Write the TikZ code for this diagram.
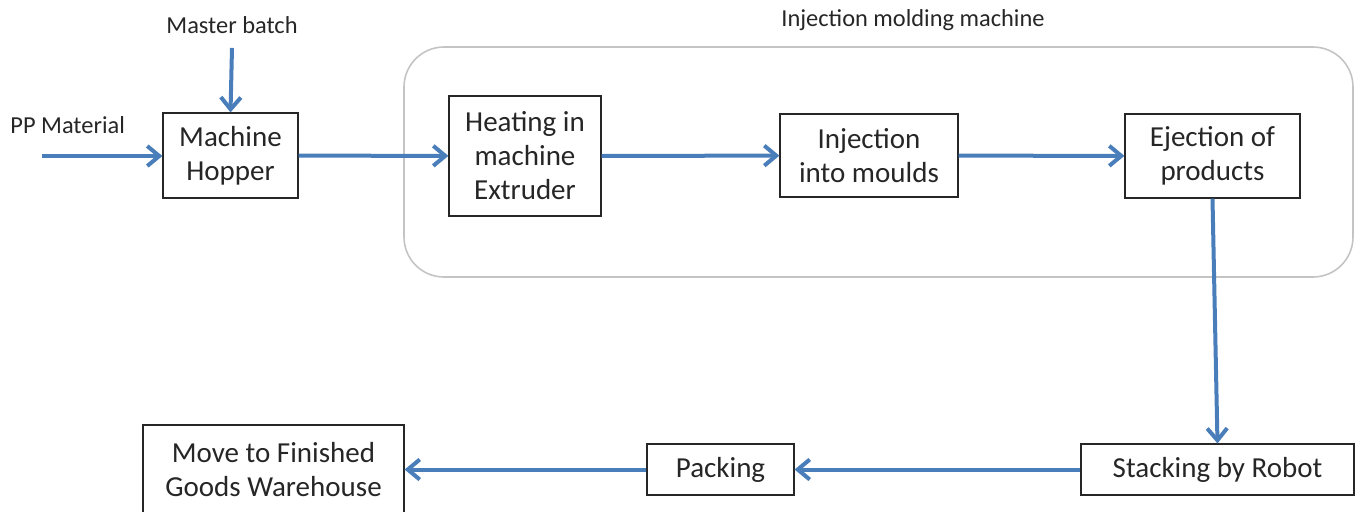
\documentclass[tikz,border=0pt]{standalone}
\usepackage{fontspec}
\setmainfont{Carlito}
\usetikzlibrary{arrows.meta}
\definecolor{flowblue}{RGB}{74,126,187}
\definecolor{framegray}{RGB}{196,196,196}

\tikzset{
  box/.style={draw=black!85, line width=0.6pt, inner sep=0pt, align=center,
              font=\fontsize{14.5}{17}\selectfont, text=black!85},
  lbl/.style={inner sep=1pt, font=\fontsize{12.2}{14}\selectfont, text=black!85},
  flow/.style={draw=flowblue, line width=2pt,
               -{Straight Barb[length=6pt,width=10pt,line width=2pt]}},
}

\begin{document}
\begin{tikzpicture}[x=0.5pt, y=-0.5pt]
  \useasboundingbox (0,0) rectangle (1362,511);
  % machine frame
  \node[draw=framegray, line width=0.8pt, rounded corners=20pt,
        minimum width=474.5pt, minimum height=115pt] (imm) at (878.5,162) {};
  \node[lbl] (immlbl) at (913,20) {Injection molding machine};

  % inputs
  \node[lbl] (mb) at (232,25) {Master batch};
  \node[lbl, anchor=west] (pp) at (8,125) {PP Material};
  \coordinate (ppin) at (42,156);

  % process boxes
  \node[box, minimum width=67.5pt, minimum height=42.5pt] (hopper) at (230.5,155.5) {Machine\\Hopper};
  \node[box, minimum width=76pt, minimum height=60pt] (heat) at (525,156) {Heating in\\machine\\Extruder};
  \node[box, minimum width=89pt, minimum height=41.5pt] (inj) at (869,155.5) {Injection\\into moulds};
  \node[box, minimum width=87.5pt, minimum height=42pt] (eject) at (1212.5,156) {Ejection of\\products};
  \node[box, minimum width=136.5pt, minimum height=25.5pt] (stack) at (1217.5,469.5) {Stacking by Robot};
  \node[box, minimum width=73.5pt, minimum height=25.5pt] (pack) at (720.5,469.5) {Packing};
  \node[box, minimum width=130.5pt, minimum height=45pt] (move) at (273.5,470) {Move to Finished\\Goods Warehouse};

  % flow
  \draw[flow] (ppin) -- (hopper.west |- ppin);
  \draw[flow] ([yshift=-6pt]mb.south) -- (hopper.north);
  \draw[flow] (hopper) -- (heat);
  \draw[flow] (heat) -- (inj);
  \draw[flow] (inj) -- (eject);
  \draw[flow] (eject.south) -- (stack.north);
  \draw[flow] (stack.west) -- (pack.east);
  \draw[flow] (pack.west) -- (pack.west -| move.east);
\end{tikzpicture}
\end{document}
